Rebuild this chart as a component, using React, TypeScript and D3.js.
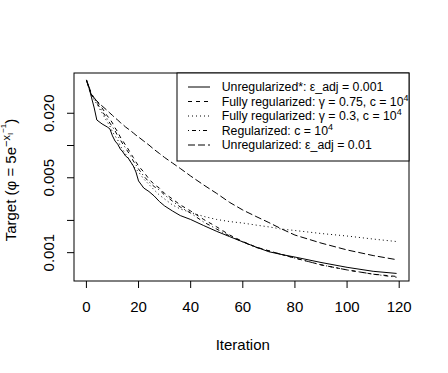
import { line, scaleLinear, scaleLog, extent } from "d3";

const W = 448;
const H = 373;
const BOX = { left: 74, right: 409, top: 73, bottom: 281 };
const FONT = "'Liberation Sans', Arial, Helvetica, sans-serif";

// iteration grid shared by all runs
const ITERS = [0, 1, 2, 3, 4, 6, 8, 9, 10, 11, 12, 13, 14, 15, 16, 17, 18, 19, 20, 22, 24, 26, 28, 30, 33, 36, 40, 45, 50, 55, 60, 65, 70, 75, 80, 90, 100, 110, 119];

const UNREG_0001 = [0.0409, 0.0345, 0.0278, 0.0224, 0.0173, 0.0159, 0.0149, 0.0143, 0.0123, 0.011, 0.0103, 0.00928, 0.0087, 0.00799, 0.00765, 0.00702, 0.00644, 0.00566, 0.00467, 0.00401, 0.00372, 0.00338, 0.003, 0.00273, 0.00245, 0.00222, 0.00204, 0.00179, 0.00158, 0.00141, 0.00126, 0.00113, 0.00102, 0.00096, 0.00091, 0.00081, 0.00073, 0.00067, 0.00064];
const FULL_075 = [0.0409, 0.0352, 0.0303, 0.0278, 0.026, 0.0224, 0.0189, 0.0177, 0.0162, 0.0146, 0.0134, 0.012, 0.011, 0.0101, 0.00928, 0.00843, 0.00773, 0.00702, 0.00644, 0.00566, 0.00487, 0.00433, 0.00401, 0.00357, 0.00317, 0.00279, 0.00245, 0.00204, 0.00174, 0.00146, 0.00127, 0.00113, 0.00104, 0.00096, 0.00089, 0.00077, 0.00069, 0.00063, 0.0006];
const FULL_03 = [0.0409, 0.0352, 0.0296, 0.0266, 0.0244, 0.0201, 0.0166, 0.0152, 0.0134, 0.0123, 0.0113, 0.0099, 0.00909, 0.00834, 0.00765, 0.00702, 0.00644, 0.00604, 0.00566, 0.00487, 0.00433, 0.00385, 0.00345, 0.00317, 0.00279, 0.00256, 0.00237, 0.00218, 0.00204, 0.00195, 0.00189, 0.00181, 0.00174, 0.00166, 0.00161, 0.00151, 0.00143, 0.00134, 0.00127];
const REG_C = [0.0409, 0.0352, 0.0296, 0.0272, 0.025, 0.021, 0.0177, 0.0162, 0.0149, 0.0137, 0.0123, 0.0113, 0.0103, 0.0095, 0.0087, 0.00799, 0.00717, 0.00658, 0.00604, 0.00519, 0.00457, 0.00414, 0.00385, 0.00345, 0.00303, 0.00267, 0.00234, 0.00193, 0.00166, 0.00143, 0.00126, 0.00112, 0.00104, 0.00096, 0.00089, 0.00077, 0.00069, 0.00063, 0.00059];
const UNREG_001 = [0.0409, 0.0337, 0.0296, 0.0278, 0.026, 0.0234, 0.0212, 0.0201, 0.0191, 0.0181, 0.0173, 0.0164, 0.0157, 0.0149, 0.0143, 0.0137, 0.0131, 0.0125, 0.012, 0.011, 0.0101, 0.00918, 0.00843, 0.00773, 0.00687, 0.00611, 0.00519, 0.00428, 0.00357, 0.00294, 0.0025, 0.00218, 0.00191, 0.00166, 0.00146, 0.00123, 0.00106, 0.00094, 0.00086];

const X_TICKS = [0, 20, 40, 60, 80, 100, 120];
const Y_TICKS = [0.02, 0.01, 0.005, 0.002, 0.001];
const Y_TICK_LABELS = ["0.020", "", "0.005", "", "0.001"];
const Y_DOMAIN = [0.000544, 0.0475];

const SERIES = [
  { key: "u0001", values: UNREG_0001, dash: undefined },
  { key: "f075", values: FULL_075, dash: "4,4" },
  { key: "f03", values: FULL_03, dash: "1,3" },
  { key: "reg", values: REG_C, dash: "1,3,4,3" },
  { key: "u001", values: UNREG_001, dash: "7,3" },
];

const sup = (txt: string) => <tspan dy={-5} fontSize={9}>{txt}</tspan>;

const LEGEND = [
  <>Unregularized*: ε_adj = 0.001</>,
  <>Fully regularized: γ = 0.75, c = 10{sup("4")}</>,
  <>Fully regularized: γ = 0.3, c = 10{sup("4")}</>,
  <>Regularized: c = 10{sup("4")}</>,
  <>Unregularized: ε_adj = 0.01</>,
];

export default function App() {
  const [x0, x1] = extent(ITERS) as [number, number];
  const pad = (x1 - x0) * 0.04;
  const x = scaleLinear().domain([x0 - pad, x1 + pad]).range([BOX.left, BOX.right]);
  const y = scaleLog().domain(Y_DOMAIN).range([BOX.bottom, BOX.top]);
  const path = line<number>().x((_, i) => x(ITERS[i])).y((v) => y(v));
  const cy = (BOX.top + BOX.bottom) / 2;
  const cx = x((X_TICKS[0] + X_TICKS[X_TICKS.length - 1]) / 2);

  return (
    <svg width={W} height={H} style={{ position: "fixed", left: 0, top: 0, background: "#fff" }} fontFamily={FONT}>
      {SERIES.map((s) => (
        <path key={s.key} d={path(s.values) ?? ""} fill="none" stroke="#000" strokeWidth={1} strokeDasharray={s.dash} />
      ))}
      <rect x={BOX.left} y={BOX.top} width={BOX.right - BOX.left} height={BOX.bottom - BOX.top} fill="none" stroke="#000" strokeWidth={1} />

      {X_TICKS.map((t) => (
        <g key={t}>
          <line x1={x(t)} x2={x(t)} y1={BOX.bottom} y2={BOX.bottom + 7} stroke="#000" />
          <text x={x(t)} y={311.5} fontSize={15} textAnchor="middle">{t}</text>
        </g>
      ))}
      <text x={cx} y={350} fontSize={15} textAnchor="middle">Iteration</text>

      {Y_TICKS.map((t, i) => (
        <g key={t}>
          <line x1={BOX.left - 7} x2={BOX.left} y1={y(t)} y2={y(t)} stroke="#000" />
          {Y_TICK_LABELS[i] ? (
            <text transform={`translate(54,${y(t)}) rotate(-90)`} fontSize={15} textAnchor="middle">{Y_TICK_LABELS[i]}</text>
          ) : null}
        </g>
      ))}
      <text transform={`translate(15.5,${cy + 3}) rotate(-90)`} fontSize={15} textAnchor="middle">
        Target (φ = 5e
        <tspan dy={-6} fontSize={11}>−x</tspan>
        <tspan dy={3} fontSize={8}>I</tspan>
        <tspan dy={-7} fontSize={8}>−1</tspan>
        <tspan dy={10}>)</tspan>
      </text>

      <g>
        <rect x={177} y={BOX.top} width={BOX.right - 177} height={88} fill="#fff" stroke="#000" />
        {SERIES.map((s, i) => {
          const ry = 87 + i * 14.5;
          return (
            <g key={s.key}>
              <line x1={188} x2={210} y1={ry} y2={ry} stroke="#000" strokeDasharray={s.dash} />
              <text x={221.7} y={ry} dy="0.35em" fontSize={12.3}>{LEGEND[i]}</text>
            </g>
          );
        })}
      </g>
    </svg>
  );
}
